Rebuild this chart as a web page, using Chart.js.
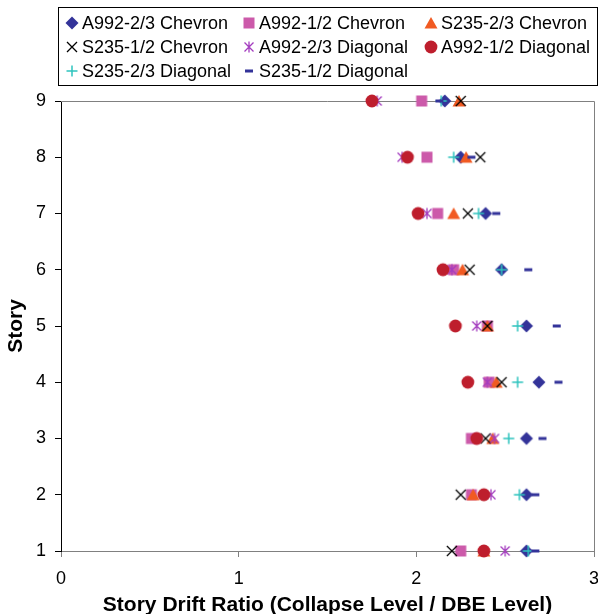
<!DOCTYPE html>
<html>
<head>
<meta charset="utf-8">
<script src="https://cdn.jsdelivr.net/npm/chart.js@4.4.0/dist/chart.umd.min.js"></script>
<style>
  html, body { margin: 0; padding: 0; background: #fff; }
  #wrap { position: relative; width: 598px; height: 614px; }
  #legend { position: absolute; left: 58px; top: 7px; width: 538px; height: 77px; border: 1px solid #000;
            font-family: "Liberation Sans", Arial, sans-serif; font-size: 18px; color: #000; }
  .item { position: absolute; white-space: nowrap; line-height: 20px; }
  .item canvas { position: absolute; left: -18px; top: 2px; }
</style>
</head>
<body>
<div id="wrap">
  <canvas id="chart" width="598" height="614"></canvas>
  <div id="legend"></div>
</div>
<script>
// ── Data (story 1 → 9) ───────────────────────────────────
const STORIES = [1, 2, 3, 4, 5, 6, 7, 8, 9];
const X_TICKS = [0, 1, 2, 3];

const A992_23_CHEVRON  = [2.62, 2.62, 2.62, 2.69, 2.62, 2.48, 2.39, 2.25, 2.16];
const A992_12_CHEVRON  = [2.25, 2.31, 2.31, 2.41, 2.40, 2.21, 2.12, 2.06, 2.03];
const S235_23_CHEVRON  = [2.38, 2.32, 2.43, 2.45, 2.40, 2.26, 2.21, 2.28, 2.24];
const S235_12_CHEVRON  = [2.20, 2.25, 2.39, 2.48, 2.40, 2.30, 2.29, 2.36, 2.25];
const A992_23_DIAGONAL = [2.50, 2.42, 2.44, 2.40, 2.34, 2.20, 2.06, 1.92, 1.78];
const A992_12_DIAGONAL = [2.38, 2.38, 2.34, 2.29, 2.22, 2.15, 2.01, 1.95, 1.75];
const S235_23_DIAGONAL = [2.63, 2.58, 2.52, 2.57, 2.57, 2.48, 2.35, 2.21, 2.14];
const S235_12_DIAGONAL = [2.67, 2.67, 2.71, 2.80, 2.79, 2.63, 2.45, 2.31, 2.13];

const SERIES = [
  { label: 'A992-2/3 Chevron',  data: A992_23_CHEVRON,  marker: 'diamond',  color: '#333399' },
  { label: 'A992-1/2 Chevron',  data: A992_12_CHEVRON,  marker: 'square',   color: '#CC5AAA' },
  { label: 'S235-2/3 Chevron',  data: S235_23_CHEVRON,  marker: 'triangle', color: '#F15A22' },
  { label: 'S235-1/2 Chevron',  data: S235_12_CHEVRON,  marker: 'x',        color: '#000000' },
  { label: 'A992-2/3 Diagonal', data: A992_23_DIAGONAL, marker: 'star',     color: '#A43DBF' },
  { label: 'A992-1/2 Diagonal', data: A992_12_DIAGONAL, marker: 'circle',   color: '#BE1E2D' },
  { label: 'S235-2/3 Diagonal', data: S235_23_DIAGONAL, marker: 'plus',     color: '#2EC4BE' },
  { label: 'S235-1/2 Diagonal', data: S235_12_DIAGONAL, marker: 'dash',     color: '#333399' },
];

// ── Marker images (Excel-like) ───────────────────────────
function makeMarker(kind, color) {
  const c = document.createElement('canvas');
  c.width = 16; c.height = 16;
  const g = c.getContext('2d');
  g.fillStyle = color; g.strokeStyle = color;
  const line = (pts, w) => {
    g.lineWidth = w; g.beginPath();
    for (let i = 0; i < pts.length; i += 4) { g.moveTo(pts[i], pts[i + 1]); g.lineTo(pts[i + 2], pts[i + 3]); }
    g.stroke();
  };
  switch (kind) {
    case 'diamond':
      g.beginPath(); g.moveTo(8, 1.5); g.lineTo(14.5, 8); g.lineTo(8, 14.5); g.lineTo(1.5, 8); g.closePath(); g.fill(); break;
    case 'square':
      g.fillRect(2.5, 2.5, 11, 11); break;
    case 'triangle':
      g.beginPath(); g.moveTo(8, 2); g.lineTo(14.5, 13.5); g.lineTo(1.5, 13.5); g.closePath(); g.fill(); break;
    case 'x':
      line([3, 3, 13, 13, 13, 3, 3, 13], 1.3); break;
    case 'star':
      line([3.5, 3.5, 12.5, 12.5, 12.5, 3.5, 3.5, 12.5, 8, 2.5, 8, 13.5], 1.3); break;
    case 'circle':
      g.beginPath(); g.arc(8, 8, 6.4, 0, Math.PI * 2); g.fill(); break;
    case 'plus':
      line([8, 2.5, 8, 13.5, 2.5, 8, 13.5, 8], 1.5); break;
    case 'dash':
      g.fillRect(4, 6.5, 8, 3); break;
  }
  return c;
}

const datasets = SERIES.map((s, i) => ({
  label: s.label,
  data: s.data.map((v, k) => ({ x: v, y: STORIES[k] })),
  pointStyle: makeMarker(s.marker, s.color),
  pointRadius: 1,          // image markers draw at their own size; small radius keeps layout overflow tiny
  pointBorderWidth: 0,
  borderWidth: 0,
  borderColor: s.color,
  backgroundColor: s.color,
  showLine: false,
  clip: false,
  order: SERIES.length - i,   // later series on top, like Excel
}));

// ── Legend (3 columns, boxed) ────────────────────────────
const LEG_COLS = [13, 190, 372];
const LEG_ROWS = [5, 29, 53];
const legendEl = document.getElementById('legend');
SERIES.forEach((s, i) => {
  const it = document.createElement('div');
  it.className = 'item';
  it.style.left = (LEG_COLS[i % 3] + 10) + 'px';
  it.style.top = LEG_ROWS[Math.floor(i / 3)] + 'px';
  it.appendChild(makeMarker(s.marker, s.color));
  it.appendChild(document.createTextNode(s.label));
  legendEl.appendChild(it);
});

// plot frame: top and right edges in grey
const framePlugin = {
  id: 'frame',
  beforeDatasetsDraw(chart) {
    const { ctx, chartArea: a } = chart;
    ctx.save();
    ctx.strokeStyle = '#808080'; ctx.lineWidth = 1;
    ctx.beginPath();
    ctx.moveTo(a.left, a.top + 0.5); ctx.lineTo(a.right + 0.5, a.top + 0.5); ctx.lineTo(a.right + 0.5, a.bottom);
    ctx.stroke();
    ctx.restore();
  },
};

const FONT = '"Liberation Sans", Arial, sans-serif';

new Chart(document.getElementById('chart'), {
  type: 'scatter',
  data: { datasets },
  options: {
    responsive: false, animation: false,
    layout: { padding: { top: 101, right: 3, left: 0, bottom: 0 } },
    plugins: { legend: { display: false }, tooltip: { enabled: false } },
    scales: {
      x: {
        type: 'linear', min: 0, max: 3,
        afterBuildTicks: s => { s.ticks = X_TICKS.map(v => ({ value: v })); },
        afterFit: s => { s.height = 63; s.paddingLeft = 0; s.paddingRight = 0; },
        border: { display: true, color: '#808080', width: 1 },
        grid: { display: true, drawOnChartArea: false, drawTicks: true, tickLength: 6, color: '#808080' },
        ticks: { color: '#000', padding: 11, font: { family: FONT, size: 18 } },
        title: { display: true, text: 'Story Drift Ratio (Collapse Level / DBE Level)', color: '#000',
                 font: { family: FONT, size: 21, weight: 'bold', lineHeight: 1 }, padding: { top: 0, bottom: -2 } },
      },
      y: {
        type: 'linear', min: 1, max: 9,
        afterBuildTicks: s => { s.ticks = STORIES.map(v => ({ value: v })); },
        afterFit: s => { s.width = 61; s.paddingTop = 0; s.paddingBottom = 0; },
        border: { display: true, color: '#000', width: 1 },
        grid: { display: true, drawOnChartArea: false, drawTicks: true, tickLength: 6, color: '#000' },
        ticks: { color: '#000', padding: 9, font: { family: FONT, size: 18 } },
        title: { display: true, text: 'Story', color: '#000',
                 font: { family: FONT, size: 21, weight: 'bold', lineHeight: 1 }, padding: { top: 6, bottom: 0 } },
      },
    },
  },
  plugins: [framePlugin],
});
</script>
</body>
</html>
